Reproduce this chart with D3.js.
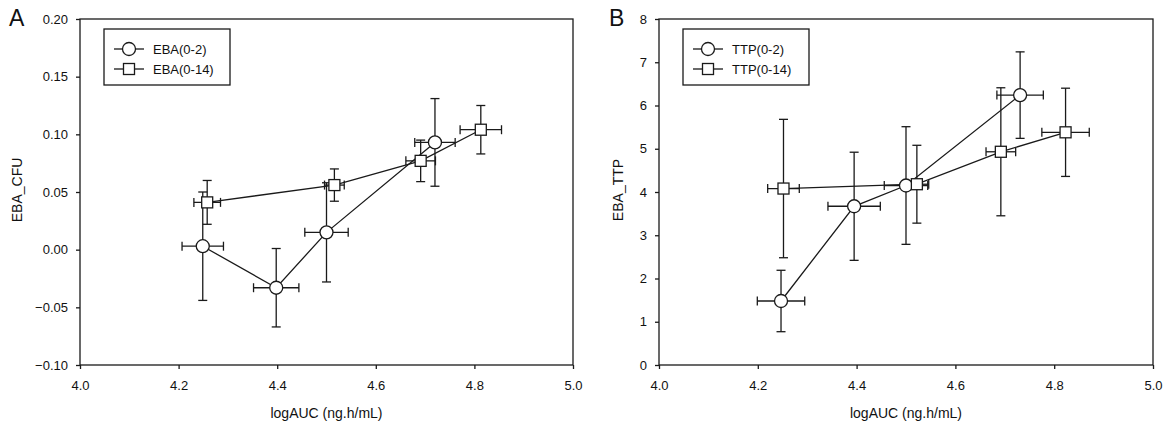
<!DOCTYPE html>
<html>
<head>
<meta charset="utf-8">
<script src="https://cdn.jsdelivr.net/npm/d3@7"></script>
<style>
  body { margin: 0; background: #fff; }
  text { font-family: Arial, "Liberation Sans", sans-serif; fill: #111; }
</style>
</head>
<body>
<div id="chart"></div>
<script>
//Tick labels for both panels
const xTicks = [4.0, 4.2, 4.4, 4.6, 4.8, 5.0]
const yTicksA = [-0.10, -0.05, 0.00, 0.05, 0.10, 0.15, 0.20]
const yTicksB = [0, 1, 2, 3, 4, 5, 6, 7, 8]

//Panel A: EBA_CFU
const eba02X = [4.249, 4.398, 4.500, 4.720]
const eba02Y = [0.003, -0.033, 0.015, 0.093]
const eba02XErr = [0.042, 0.046, 0.044, 0.041]
const eba02YErr = [0.047, 0.034, 0.043, 0.038]

const eba014X = [4.258, 4.516, 4.691, 4.813]
const eba014Y = [0.041, 0.056, 0.077, 0.104]
const eba014XErr = [0.027, 0.020, 0.030, 0.042]
const eba014YErr = [0.019, 0.014, 0.018, 0.021]

//Panel B: EBA_TTP
const ttp02X = [4.247, 4.395, 4.500, 4.731]
const ttp02Y = [1.48, 3.67, 4.15, 6.24]
const ttp02XErr = [0.048, 0.053, 0.044, 0.047]
const ttp02YErr = [0.71, 1.25, 1.36, 1.00]

const ttp014X = [4.252, 4.522, 4.692, 4.823]
const ttp014Y = [4.08, 4.18, 4.93, 5.38]
const ttp014XErr = [0.032, 0.024, 0.030, 0.048]
const ttp014YErr = [1.60, 0.90, 1.48, 1.02]

//zip the small arrays into point objects
const toPoints = (xs, ys, xe, ye) => xs.map((x, i) => ({ x: x, y: ys[i], xe: xe[i], ye: ye[i] }))

const svg = d3.select("#chart")
  .append("svg")
  .attr("width", 1168)
  .attr("height", 426)

svg.append("rect").attr("width", 1168).attr("height", 426).attr("fill", "#fff")

const plotTop = 19, plotBottom = 365
const ink = "#1a1a1a"

function drawPanel(p) {
  const xScale = d3.scaleLinear().domain([4.0, 5.0]).range([p.left, p.right])
  const yScale = d3.scaleLinear().domain(p.yDomain).range([plotBottom, plotTop])
  const g = svg.append("g")

  //x axis with ticks pointing down
  const xAxis = d3.axisBottom(xScale)
    .tickValues(xTicks)
    .tickFormat(d3.format(".1f"))
    .tickSizeInner(4).tickSizeOuter(0).tickPadding(12)
  const gx = g.append("g")
    .attr("transform", "translate(0," + plotBottom + ")")
    .call(xAxis)
  gx.select(".domain").remove()

  const yAxis = d3.axisLeft(yScale)
    .tickValues(p.yTicks)
    .tickFormat(p.yFormat)
    .tickSizeInner(4).tickSizeOuter(0).tickPadding(8)
  const gy = g.append("g")
    .attr("transform", "translate(" + p.left + ",0)")
    .call(yAxis)
  gy.select(".domain").remove()

  g.selectAll(".tick line").attr("stroke", ink).attr("stroke-width", 1.3)
  g.selectAll(".tick text")
    .style("font-size", "13px")
    .style("font-family", "Arial, 'Liberation Sans', sans-serif")
    .attr("fill", "#111")

  //box around the plot area
  g.append("rect")
    .attr("x", p.left).attr("y", plotTop)
    .attr("width", p.right - p.left).attr("height", plotBottom - plotTop)
    .attr("fill", "none").attr("stroke", ink).attr("stroke-width", 1.3)

  //axis titles
  g.append("text")
    .attr("x", (p.left + p.right) / 2).attr("y", 418)
    .attr("text-anchor", "middle")
    .style("font-size", "14px")
    .text("logAUC (ng.h/mL)")
  g.append("text")
    .attr("transform", "translate(" + p.titleX + "," + ((plotTop + plotBottom) / 2 - 2) + ") rotate(-90)")
    .attr("text-anchor", "middle")
    .attr("dy", "0.35em")
    .style("font-size", "14px")
    .text(p.yTitle)

  //panel letter
  g.append("text")
    .attr("x", p.letterX).attr("y", 26)
    .style("font-size", "23px")
    .text(p.letter)

  const line = d3.line().x(d => xScale(d.x)).y(d => yScale(d.y))

  p.series.forEach(function (s) {
    const pts = s.points
    const sg = g.append("g").attr("stroke", ink).attr("stroke-width", 1.3)
    //error bars with caps, both directions
    pts.forEach(function (d) {
      const cx = xScale(d.x), cy = yScale(d.y)
      const y0 = yScale(d.y - d.ye), y1 = yScale(d.y + d.ye)
      const x0 = xScale(d.x - d.xe), x1 = xScale(d.x + d.xe)
      sg.append("line").attr("x1", cx).attr("x2", cx).attr("y1", y0).attr("y2", y1)
      sg.append("line").attr("x1", cx - 4.5).attr("x2", cx + 4.5).attr("y1", y0).attr("y2", y0)
      sg.append("line").attr("x1", cx - 4.5).attr("x2", cx + 4.5).attr("y1", y1).attr("y2", y1)
      sg.append("line").attr("x1", x0).attr("x2", x1).attr("y1", cy).attr("y2", cy)
      sg.append("line").attr("x1", x0).attr("x2", x0).attr("y1", cy - 4.5).attr("y2", cy + 4.5)
      sg.append("line").attr("x1", x1).attr("x2", x1).attr("y1", cy - 4.5).attr("y2", cy + 4.5)
    })
    sg.append("path").datum(pts).attr("d", line).attr("fill", "none")
  })

  //markers last so they sit on top
  p.series.forEach(function (s) {
    drawMarkers(g, s.shape, s.points.map(d => [xScale(d.x), yScale(d.y)]))
  })

  //legend
  const lx = p.left + 24, ly = 29
  g.append("rect")
    .attr("x", lx).attr("y", ly).attr("width", 126).attr("height", 56)
    .attr("fill", "#fff").attr("stroke", ink).attr("stroke-width", 1.3)
  p.series.forEach(function (s, i) {
    const ry = ly + 20 + i * 20
    g.append("line")
      .attr("x1", lx + 10).attr("x2", lx + 40).attr("y1", ry).attr("y2", ry)
      .attr("stroke", ink).attr("stroke-width", 1.3)
    drawMarkers(g, s.shape, [[lx + 25, ry]])
    g.append("text")
      .attr("x", lx + 49).attr("y", ry).attr("dy", "0.35em")
      .style("font-size", "13px")
      .text(s.name)
  })
}

function drawMarkers(g, shape, xy) {
  if (shape === "circle") {
    g.selectAll(null).data(xy).enter().append("circle")
      .attr("cx", d => d[0]).attr("cy", d => d[1]).attr("r", 6.5)
      .attr("fill", "#fff").attr("stroke", ink).attr("stroke-width", 1.3)
  } else {
    g.selectAll(null).data(xy).enter().append("rect")
      .attr("x", d => d[0] - 5.5).attr("y", d => d[1] - 5.5)
      .attr("width", 11).attr("height", 11)
      .attr("fill", "#fff").attr("stroke", ink).attr("stroke-width", 1.3)
  }
}

drawPanel({
  left: 80, right: 573,
  yDomain: [-0.10, 0.20], yTicks: yTicksA, yFormat: d3.format(".2f"),
  yTitle: "EBA_CFU", titleX: 17, letter: "A", letterX: 9,
  series: [
    { name: "EBA(0-2)", shape: "circle", points: toPoints(eba02X, eba02Y, eba02XErr, eba02YErr) },
    { name: "EBA(0-14)", shape: "square", points: toPoints(eba014X, eba014Y, eba014XErr, eba014YErr) }
  ]
})

drawPanel({
  left: 659, right: 1153,
  yDomain: [0, 8], yTicks: yTicksB, yFormat: d3.format("d"),
  yTitle: "EBA_TTP", titleX: 618, letter: "B", letterX: 609,
  series: [
    { name: "TTP(0-2)", shape: "circle", points: toPoints(ttp02X, ttp02Y, ttp02XErr, ttp02YErr) },
    { name: "TTP(0-14)", shape: "square", points: toPoints(ttp014X, ttp014Y, ttp014XErr, ttp014YErr) }
  ]
})
</script>
</body>
</html>
